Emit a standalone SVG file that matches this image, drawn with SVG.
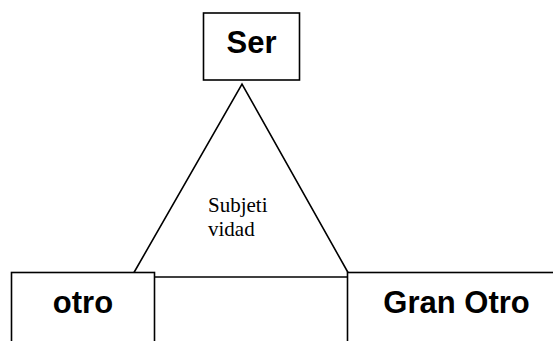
<svg xmlns="http://www.w3.org/2000/svg" width="553" height="341" viewBox="0 0 553 341">
  <style>
    .box { fill: #ffffff; stroke: #000000; stroke-width: 1.6; }
    .line { fill: none; stroke: #000000; stroke-width: 1.6; }
    .label { font-family: "Liberation Sans", Arial, sans-serif; font-weight: bold; font-size: 31px; fill: #000000; }
    .inner { font-family: "Liberation Serif", "Times New Roman", serif; font-size: 21px; fill: #000000; }
  </style>
  <rect width="553" height="341" fill="#ffffff"/>

  <g id="connectors">
    <!-- triangle sides from the top box to the two lower boxes -->
    <polyline class="line" points="134,272.5 242,84 348,272.5"/>
    <!-- base segment between the two lower boxes -->
    <line class="line" x1="154.5" y1="277" x2="347.5" y2="277"/>
  </g>

  <g id="subjetividad">
    <text class="inner" x="208" y="212">Subjeti</text>
    <text class="inner" x="208" y="236">vidad</text>
  </g>

  <g id="ser">
    <rect class="box" x="203.5" y="13" width="96" height="67"/>
    <text class="label" x="251.5" y="53" text-anchor="middle">Ser</text>
  </g>

  <g id="otro">
    <rect class="box" x="11.5" y="272.5" width="143" height="80"/>
    <text class="label" x="83" y="313" text-anchor="middle">otro</text>
  </g>

  <g id="gran-otro">
    <rect class="box" x="347.5" y="272.5" width="220" height="80"/>
    <text class="label" x="456.5" y="313" text-anchor="middle">Gran Otro</text>
  </g>
</svg>
